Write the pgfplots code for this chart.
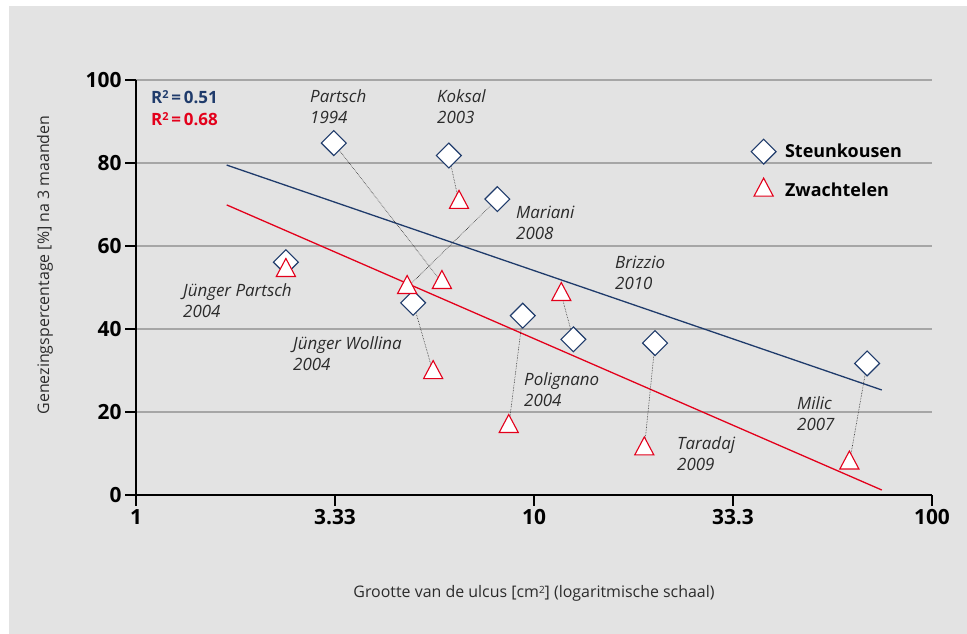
\documentclass[border=0pt]{standalone}
\usepackage{pgfplots}
\pgfplotsset{compat=1.18}
\usepackage{fontspec}
\setmainfont{Open Sans}
\definecolor{bg}{HTML}{E3E3E3}
\definecolor{navy}{HTML}{1F3B6B}
\definecolor{myred}{HTML}{E3001B}
\definecolor{gridgray}{HTML}{A6A6A6}
\definecolor{txt}{HTML}{2B2B2B}
\newcommand{\lab}[4]{%
  \node[anchor=base west, inner sep=0pt, text=txt, font=\itshape\fontsize{17}{20}\selectfont] at (#1,634-#2) {#3};
  \node[anchor=base west, inner sep=0pt, text=txt, font=\itshape\fontsize{17}{20}\selectfont] at (#1,634-#2-21) {#4};}
\begin{document}
\begin{tikzpicture}
\begin{scope}[x=1bp,y=1bp]
\fill[white] (0,0) rectangle (967,634);
\fill[bg] (9,0) rectangle (967,628);
\end{scope}
\begin{axis}[
  at={(136bp,139bp)}, anchor=south west,
  scale only axis, width=796bp, height=415bp,
  xmode=log, xmin=1, xmax=100, ymin=0, ymax=100,
  xtick={1,3.16228,10,31.6228,100}, xticklabels={1,3.33,10,33.3,100},
  ytick={0,20,40,60,80,100}, yticklabels={0,20,40,60,80,100},
  xminorticks=false, yminorticks=false,
  ymajorgrids, grid style={gridgray, line width=1.2bp},
  axis x line*=bottom, axis y line*=left,
  axis line style={black, line width=1.2bp, -},
  tick align=outside, major tick length=11bp,
  every tick/.style={black, line width=1.1bp},
  ticklabel style={font=\bfseries\fontsize{21}{25}\selectfont, text=black},
  clip=false,
  legend style={at={(rel axis cs:0.7726,0.8578)}, anchor=north west, draw=none, fill=none,
    inner sep=0pt, row sep=14bp, nodes={inner sep=2bp},
    /tikz/every odd column/.append style={column sep=7bp},
    font=\bfseries\fontsize{18}{22}\selectfont, text=black},
  legend cell align=left,
]
% regression lines
\addplot[navy, line width=1.3bp, forget plot] coordinates {(1.69,79.5) (74.8,25.3)};
\addplot[myred, line width=1.3bp, forget plot] coordinates {(1.69,69.9) (74.8,1.2)};
% connectors
\addplot[txt, densely dotted, line width=0.6bp, forget plot] coordinates {(3.14,84.8) (5.87,51.2)};
\addplot[txt, densely dotted, line width=0.6bp, forget plot] coordinates {(6.11,81.8) (6.48,70.5)};
\addplot[txt, densely dotted, line width=0.6bp, forget plot] coordinates {(8.09,71.3) (4.80,50.0)};
\addplot[txt, densely dotted, line width=0.6bp, forget plot] coordinates {(4.97,46.3) (5.58,29.5)};
\addplot[txt, densely dotted, line width=0.6bp, forget plot] coordinates {(2.38,56.1) (2.38,54.1)};
\addplot[txt, densely dotted, line width=0.6bp, forget plot] coordinates {(9.37,43.2) (8.64,16.5)};
\addplot[txt, densely dotted, line width=0.6bp, forget plot] coordinates {(12.56,37.5) (11.71,48.3)};
\addplot[txt, densely dotted, line width=0.6bp, forget plot] coordinates {(20.14,36.6) (18.93,11.1)};
\addplot[txt, densely dotted, line width=0.6bp, forget plot] coordinates {(68.7,31.7) (62.0,7.7)};
% markers
\addplot[only marks, mark=square*, mark size=8.8bp,
  mark options={rotate=45, fill=white, draw=navy, line width=1.1bp}] coordinates {
  (3.14,84.8) (6.11,81.8) (8.09,71.3) (4.97,46.3) (2.38,56.1)
  (9.37,43.2) (12.56,37.5) (20.14,36.6) (68.7,31.7)};
\addlegendentry{Steunkousen}
\addplot[only marks, mark=triangle*, mark size=12bp,
  mark options={xscale=0.92, fill=white, draw=myred, line width=1.1bp}] coordinates {
  (5.87,51.2) (6.48,70.5) (4.80,50.0) (5.58,29.5) (2.38,54.1)
  (8.64,16.5) (11.71,48.3) (18.93,11.1) (62.0,7.7)};
\addlegendentry{Zwachtelen}
\end{axis}
\begin{scope}[x=1bp,y=1bp]
% R^2
\node[anchor=base west, inner sep=0pt, text=navy, font=\bfseries\fontsize{17}{20}\selectfont] at (151,634-104) {R\raisebox{0.55ex}{\fontsize{11}{12}\selectfont 2}\,=\,0.51};
\node[anchor=base west, inner sep=0pt, text=myred, font=\bfseries\fontsize{17}{20}\selectfont] at (151,634-126) {R\raisebox{0.55ex}{\fontsize{11}{12}\selectfont 2}\,=\,0.68};
% study labels
\lab{310}{103}{Partsch}{1994}
\lab{437}{103}{Koksal}{2003}
\lab{516}{219}{Mariani}{2008}
\lab{615}{269}{Brizzio}{2010}
\lab{183}{297}{Jünger Partsch}{2004}
\lab{293}{350}{Jünger Wollina}{2004}
\lab{524}{386}{Polignano}{2004}
\lab{677}{450}{Taradaj}{2009}
\lab{797}{410}{Milic}{2007}
% axis labels
\node[rotate=90, text=txt, font=\fontsize{16}{19}\selectfont] at (45,634-265) {Genezingspercentage [\%] na 3 maanden};
\node[anchor=base, text=txt, inner sep=0pt, font=\fontsize{16}{19}\selectfont] at (534,634-598) {Grootte van de ulcus [cm\raisebox{0.5ex}{\fontsize{10}{12}\selectfont 2}] (logaritmische schaal)};
\end{scope}
\end{tikzpicture}
\end{document}
